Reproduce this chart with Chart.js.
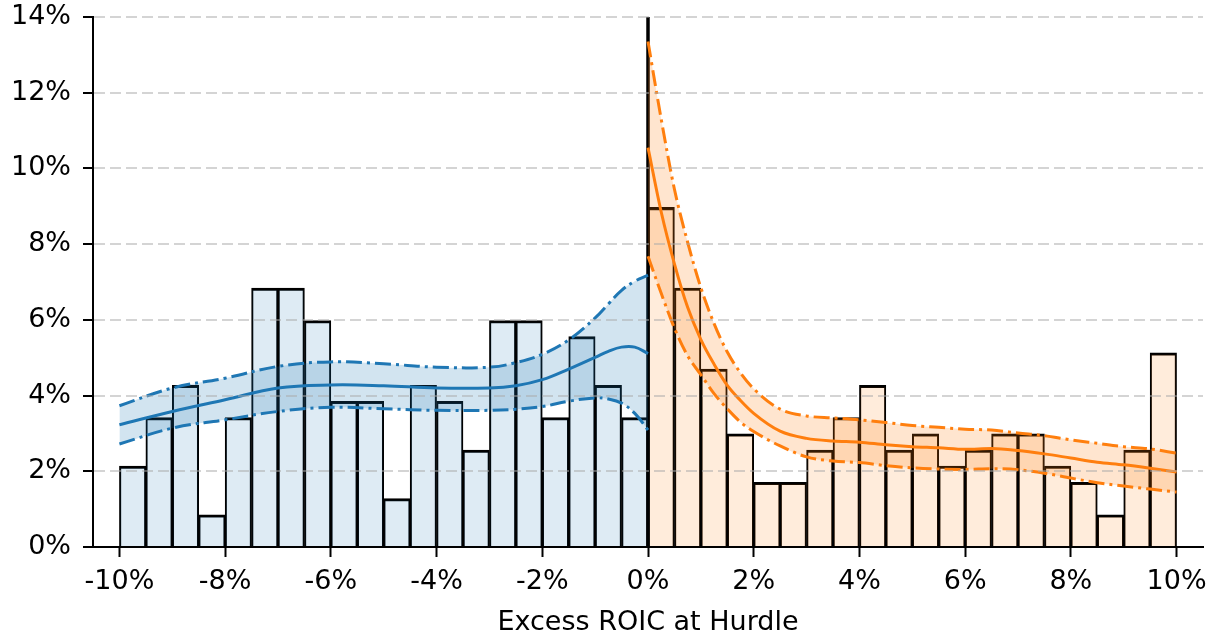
<!DOCTYPE html>
<html>
<head>
<meta charset="utf-8">
<script src="https://cdn.jsdelivr.net/npm/chart.js@4.4.1/dist/chart.umd.min.js"></script>
<style>html,body{margin:0;padding:0;background:#fff;}canvas{display:block;}</style>
</head>
<body>
<canvas id="c" width="1216" height="635"></canvas>
<script>
// ---- data ----
const binStarts = [-10, -9.5, -9, -8.5, -8, -7.5, -7, -6.5, -6, -5.5, -5, -4.5, -4, -3.5, -3, -2.5, -2, -1.5, -1, -0.5,
                   0, 0.5, 1, 1.5, 2, 2.5, 3, 3.5, 4, 4.5, 5, 5.5, 6, 6.5, 7, 7.5, 8, 8.5, 9, 9.5];
const binWidth = 0.5;
const belowValues = [2.14, 3.42, 4.27, 0.85, 3.42, 6.84, 6.84, 5.98, 3.85, 3.85,
                     1.28, 4.27, 3.85, 2.56, 5.98, 5.98, 3.42, 5.56, 4.27, 3.42];
const aboveValues = [8.97, 6.84, 4.70, 2.99, 1.71, 1.71, 2.56, 3.42, 4.27, 2.56,
                     2.99, 2.14, 2.56, 2.99, 2.99, 2.14, 1.71, 0.85, 2.56, 5.13];

const blueFitX   = [-10, -9, -8, -7, -6, -5, -4, -3, -2.5, -2, -1.5, -1, -0.75, -0.5, -0.25, 0];
const blueFitMid = [3.23, 3.58, 3.89, 4.20, 4.28, 4.26, 4.20, 4.20, 4.26, 4.42, 4.70, 5.01, 5.17, 5.28, 5.28, 5.11];
const blueFitHi  = [3.73, 4.20, 4.46, 4.77, 4.89, 4.84, 4.75, 4.75, 4.87, 5.09, 5.47, 6.05, 6.42, 6.78, 7.02, 7.18];
const blueFitLo  = [2.72, 3.14, 3.36, 3.58, 3.69, 3.65, 3.61, 3.61, 3.64, 3.71, 3.85, 3.94, 3.91, 3.80, 3.53, 3.09];

const orangeFitX   = [0, 0.25, 0.5, 0.75, 1, 1.25, 1.5, 1.75, 2, 2.5, 3, 3.5, 4, 4.5, 5, 5.5, 6, 6.5, 7, 7.5, 8, 8.5, 9, 9.5, 10];
const orangeFitMid = [10.55, 8.85, 7.48, 6.33, 5.48, 4.83, 4.27, 3.87, 3.53, 3.06, 2.87, 2.80, 2.77, 2.70, 2.65, 2.62, 2.58, 2.60, 2.55, 2.46, 2.35, 2.24, 2.17, 2.08, 1.98];
const orangeFitHi  = [13.35, 11.3, 9.45, 8.05, 6.85, 5.90, 5.15, 4.60, 4.18, 3.64, 3.46, 3.41, 3.36, 3.29, 3.21, 3.16, 3.11, 3.09, 3.01, 2.94, 2.83, 2.74, 2.65, 2.59, 2.48];
const orangeFitLo  = [7.68, 6.70, 5.78, 5.05, 4.55, 4.05, 3.65, 3.30, 3.05, 2.67, 2.38, 2.27, 2.23, 2.15, 2.09, 2.06, 2.05, 2.07, 2.04, 1.95, 1.82, 1.70, 1.61, 1.53, 1.45];

const dividerX = 0;
const xTickValues = [-10, -8, -6, -4, -2, 0, 2, 4, 6, 8, 10];
const yTickValues = [0, 2, 4, 6, 8, 10, 12, 14];
const xTitle = 'Excess ROIC at Hurdle';

// ---- styling ----
const BLUE = '#1f77b4', ORANGE = '#ff7f0e';
const FONT = 'DejaVu Sans';
const DASHDOT = [16, 5, 3, 5];

function barSet(values, starts, fillColor) {
  return {
    type: 'bar',
    data: values.map((v, i) => ({x: starts[i] + binWidth / 2, y: v})),
    backgroundColor: fillColor,
    borderColor: '#000',
    borderWidth: {top: 2.4, left: 1.4, right: 1.4, bottom: 0},
    grouped: false,
    barPercentage: 1,
    categoryPercentage: 1,
    order: 10
  };
}
function lineSet(xs, ys, color, dashed, fill, fillColor, monotone) {
  return {
    type: 'line',
    data: xs.map((x, i) => ({x: x, y: ys[i]})),
    borderColor: color,
    borderWidth: 3,
    borderDash: dashed ? DASHDOT : [],
    pointRadius: 0,
    tension: 0.4,
    cubicInterpolationMode: monotone ? 'monotone' : 'default',
    fill: fill,
    backgroundColor: fillColor || 'transparent',
    order: 1
  };
}

const datasets = [
  barSet(belowValues, binStarts.slice(0, 20), 'rgba(31,119,180,0.15)'),
  barSet(aboveValues, binStarts.slice(20), 'rgba(255,127,14,0.15)'),
  {
    type: 'line',
    data: [{x: dividerX, y: yTickValues[0]}, {x: dividerX, y: yTickValues[yTickValues.length - 1]}],
    borderColor: '#000', borderWidth: 3.5, pointRadius: 0, fill: false, order: 5
  },
  lineSet(blueFitX, blueFitHi, BLUE, true, '+1', 'rgba(31,119,180,0.2)', false),
  lineSet(blueFitX, blueFitLo, BLUE, true, false, null, false),
  lineSet(blueFitX, blueFitMid, BLUE, false, false, null, false),
  lineSet(orangeFitX, orangeFitHi, ORANGE, true, '+1', 'rgba(255,127,14,0.2)', true),
  lineSet(orangeFitX, orangeFitLo, ORANGE, true, false, null, true),
  lineSet(orangeFitX, orangeFitMid, ORANGE, false, false, null, true)
];

function noPad(s) { s.paddingTop = 0; s.paddingBottom = 0; s.paddingLeft = 0; s.paddingRight = 0; }

new Chart(document.getElementById('c'), {
  type: 'bar',
  data: {datasets: datasets},
  options: {
    responsive: false,
    devicePixelRatio: 1,
    animation: false,
    events: [],
    layout: {padding: {left: 0, right: 13, top: 17, bottom: 0}},
    plugins: {legend: {display: false}, tooltip: {enabled: false}},
    scales: {
      x: {
        type: 'linear',
        min: -10.5, max: 10.5,
        offset: false,
        afterBuildTicks: s => { s.ticks = xTickValues.map(v => ({value: v})); },
        afterFit: s => { s.height = 88; noPad(s); },
        ticks: {
          callback: v => v + '%',
          font: {family: FONT, size: 27},
          color: '#000',
          padding: 9,
          maxRotation: 0,
          autoSkip: false
        },
        grid: {display: true, drawOnChartArea: false, drawTicks: true, tickLength: 10, tickWidth: 2, tickColor: '#000', offset: false},
        border: {display: true, color: '#000', width: 2, z: 2},
        title: {display: true, text: xTitle, color: '#000', font: {family: FONT, size: 27, lineHeight: 1}, padding: {top: 0, bottom: -1}}
      },
      y: {
        type: 'linear',
        min: 0, max: 14,
        afterBuildTicks: s => { s.ticks = yTickValues.map(v => ({value: v})); },
        afterFit: s => { s.width = 93; noPad(s); },
        ticks: {
          callback: v => v + '%',
          font: {family: FONT, size: 27},
          color: '#000',
          padding: 12
        },
        grid: {
          color: c => (c.tick && c.tick.value === 0) ? 'rgba(0,0,0,0)' : 'rgba(170,170,170,0.5)',
          lineWidth: 2,
          tickLength: 10, tickWidth: 2, tickColor: '#000',
          z: 1
        },
        border: {display: true, color: '#000', width: 2, dash: [11, 5], z: 2}
      }
    }
  }
});
</script>
</body>
</html>
